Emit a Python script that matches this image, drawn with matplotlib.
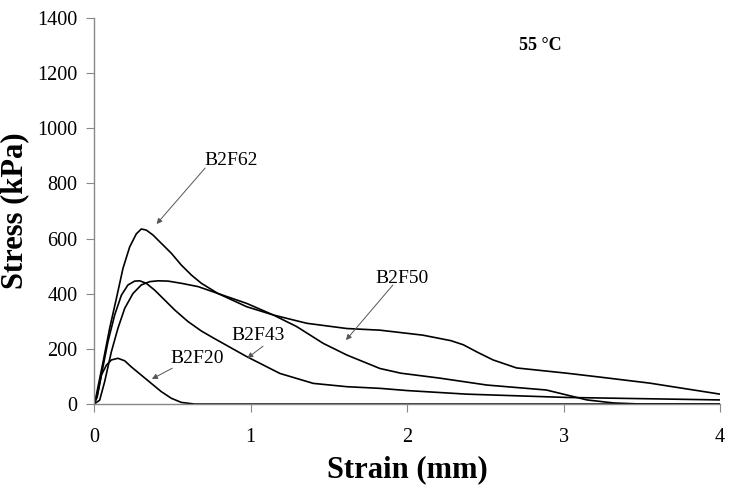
import matplotlib
matplotlib.use("Agg")
import matplotlib.pyplot as plt
import numpy as np

# ---------------- data ----------------
b2f62_x = [0, 0.015, 0.058, 0.100, 0.143, 0.185, 0.228, 0.270, 0.302, 0.334, 0.377, 0.430, 0.494,
           0.558, 0.622, 0.686, 0.792, 0.976, 1.146, 1.295, 1.465, 1.615, 1.827, 1.96, 2.21,
           2.51, 2.89, 3.02, 3.15, 3.32, 3.5, 4.0]
b2f62_y = [0, 33, 153, 275, 383, 492, 570, 617, 635, 631, 613, 583, 547,
           504, 468, 438, 401, 353, 323, 281, 220, 178, 129, 112, 94,
           69, 51, 33, 15, 4, 0, 0]

b2f43_x = [0, 0.02, 0.047, 0.089, 0.132, 0.175, 0.217, 0.260, 0.292, 0.334, 0.388, 0.452, 0.516,
           0.601, 0.686, 0.762, 0.976, 1.188, 1.401, 1.615, 1.827, 2.0, 2.38, 3.02, 4.0]
b2f43_y = [0, 25, 105, 226, 323, 395, 432, 446, 447, 438, 413, 377, 341,
           299, 265, 240, 172, 111, 75, 63, 57, 49, 36, 24, 15]

b2f50_x = [0, 0.036, 0.068, 0.111, 0.153, 0.196, 0.249, 0.302, 0.356, 0.409, 0.473, 0.558, 0.665,
           0.792, 0.976, 1.146, 1.359, 1.615, 1.827, 2.1, 2.28, 2.36, 2.45, 2.55, 2.70, 3.02,
           3.23, 3.55, 4.0]
b2f50_y = [0, 14, 81, 190, 275, 347, 401, 432, 444, 447, 446, 438, 426,
           401, 365, 323, 293, 274, 268, 250, 230, 215, 188, 160, 131, 112,
           98, 76, 36]

b2f20_x = [0, 0.02, 0.047, 0.079, 0.111, 0.153, 0.196, 0.238, 0.302, 0.366, 0.430, 0.494, 0.558,
           0.643, 4.0]
b2f20_y = [0, 30, 105, 141, 160, 166, 157, 135, 105, 75, 45, 21, 6,
           0, 0]

labels = ["B2F62", "B2F50", "B2F43", "B2F20"]
label_xy = [(0.875, 885), (1.97, 457), (1.05, 250), (0.66, 167)]
arrow_from = [(0.71, 856), (1.91, 432), (1.08, 210), (0.50, 130)]
arrow_to = [(0.40, 653), (1.61, 232), (0.98, 167), (0.37, 91)]

plt.rcParams['font.family'] = ['Liberation Serif', 'DejaVu Serif']

fig = plt.figure(figsize=(7.31, 4.88), dpi=100)
ax = fig.add_axes([0.1286, 0.172, 0.8564, 0.791])

for xs, ys in [(b2f62_x, b2f62_y), (b2f43_x, b2f43_y), (b2f50_x, b2f50_y), (b2f20_x, b2f20_y)]:
    ax.plot(xs, ys, color='black', lw=1.2, solid_joinstyle='round')

for lab, pos, a0, a1 in zip(labels, label_xy, arrow_from, arrow_to):
    ax.text(pos[0], pos[1], lab, ha='center', va='center', fontsize=14)
    ax.annotate('', xy=a1, xytext=a0,
                arrowprops=dict(arrowstyle='-|>', color='#555555', lw=0.7,
                                mutation_scale=8, shrinkA=0, shrinkB=0))

ax.text(2.85, 1302, "55 °C", ha='center', va='center', fontsize=13, fontweight='bold')

ax.set_xlim(0, 4)
ax.set_ylim(0, 1400)
ax.set_xticks([0, 1, 2, 3, 4])
ax.set_yticks(np.arange(0, 1401, 200))
ax.spines['top'].set_visible(False)
ax.spines['right'].set_visible(False)
for s in ['left', 'bottom']:
    ax.spines[s].set_color('#888888')
    ax.spines[s].set_linewidth(1.0)
ax.tick_params(direction='out', length=6, color='#888888', labelsize=14.5, pad=6)
ax.tick_params(axis='x', pad=11)
ax.set_xlabel("Strain (mm)", fontsize=22, fontweight='bold', labelpad=6)
ax.set_ylabel("Stress (kPa)", fontsize=22, fontweight='bold', labelpad=6)

plt.savefig("out.png", dpi=100)
